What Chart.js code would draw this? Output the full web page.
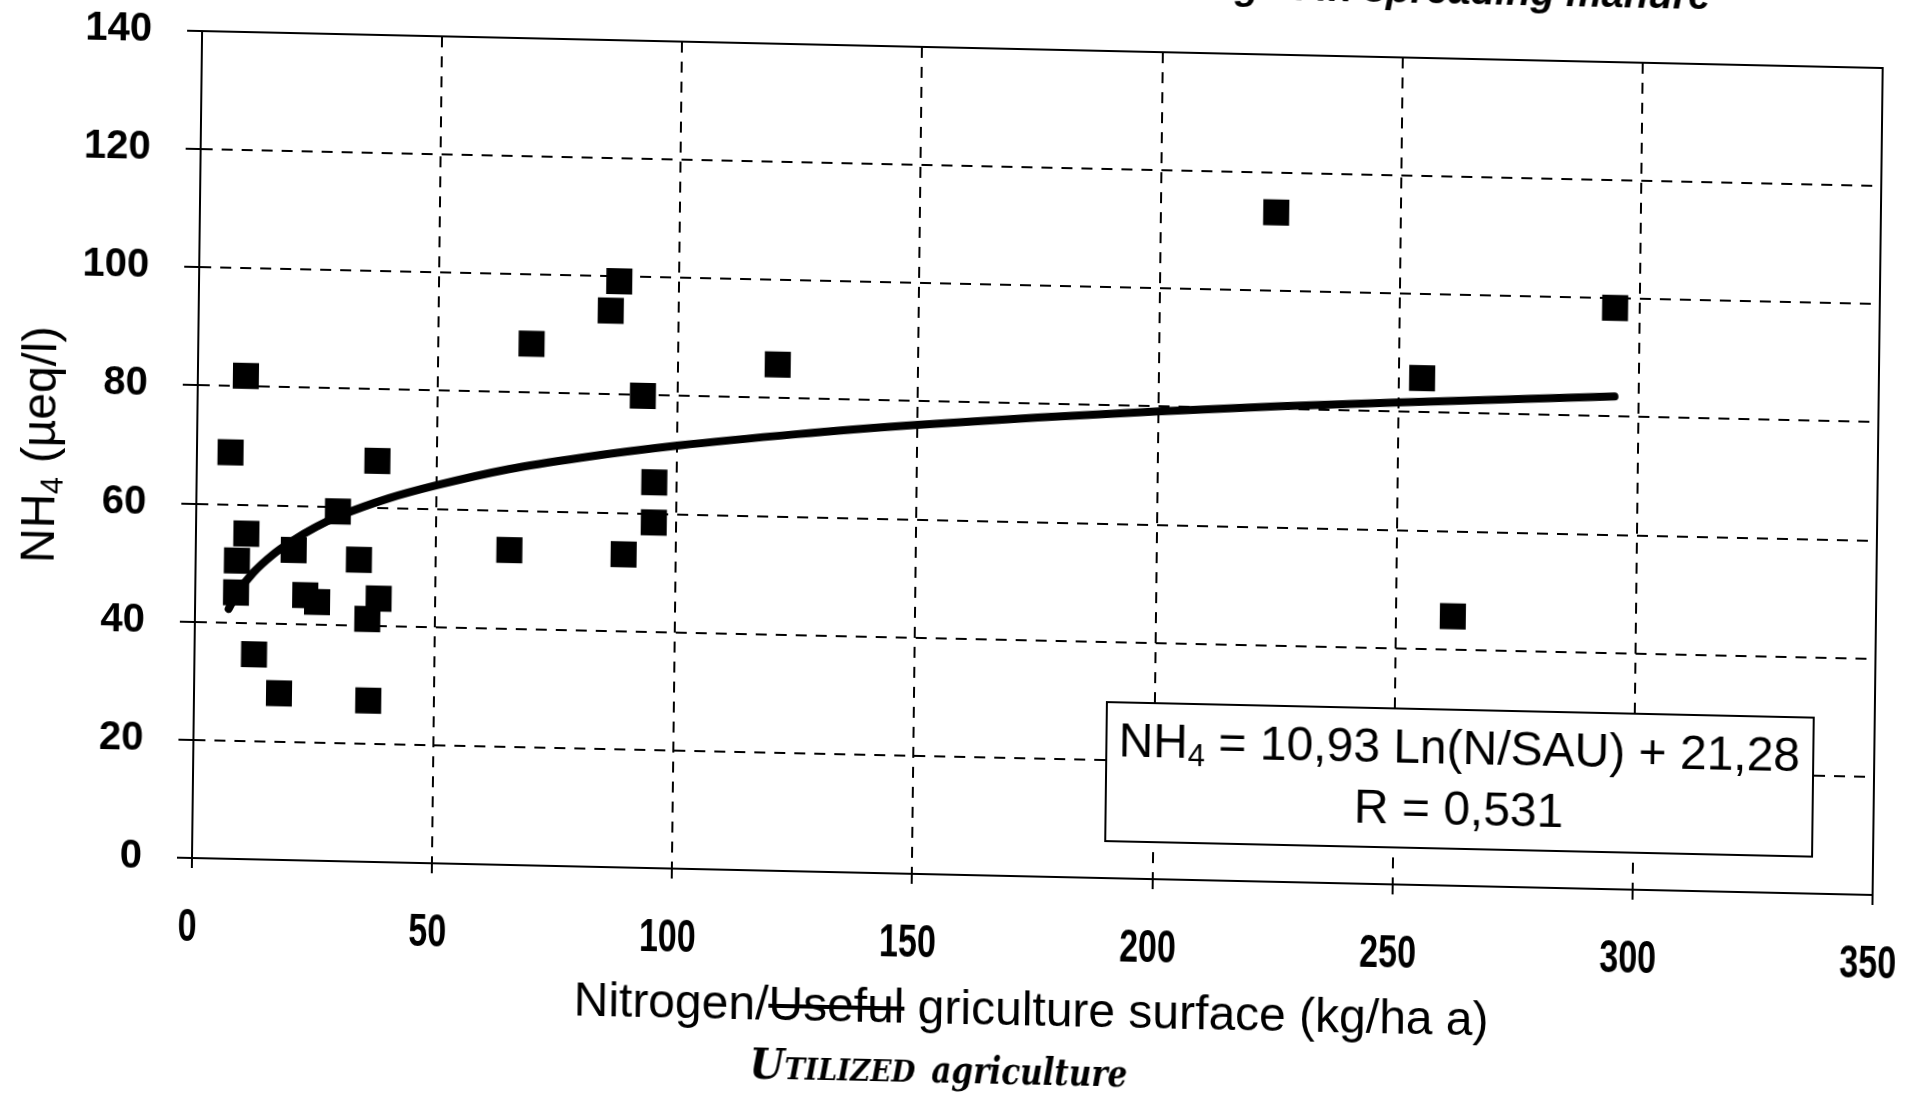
<!DOCTYPE html>
<html lang="en">
<head>
<meta charset="utf-8">
<title>NH4 and nitrogen per utilized agriculture surface</title>
<script src="https://cdn.jsdelivr.net/npm/chart.js@4.4.0/dist/chart.umd.min.js"></script>
<style>
  html, body { margin: 0; padding: 0; background: #fff; overflow: hidden; }
  body { width: 1907px; height: 1100px; position: relative; }
  /* the scanned page sits slightly rotated and skewed */
  #wrap {
    position: absolute; left: 0; top: -100px; width: 1907px; height: 1200px;
    transform-origin: 192px 958px;
    transform: rotate(0.7deg) skewY(0.56deg);
  }
  canvas { display: block; }
</style>
</head>
<body>
<div id="wrap"><canvas id="chart" width="1907" height="1200"></canvas></div>
<script>
// samples: nitrogen per utilized agriculture surface (kg/ha a) and NH4 (µeq/l)
const nSau = [10.0, 7.0, 37.6, 29.5, 10.5, 8.6, 20.4, 34.0, 8.5, 22.9, 25.4, 38.2, 35.9, 12.4, 17.7, 36.3,
              69.4, 65.3, 87.5, 85.8, 120.7, 92.7, 95.3, 95.3, 89.1,
              224.1, 254.9, 261.9, 294.9];
const nh4 = [81.8, 68.8, 67.9, 59.2, 55.1, 50.5, 52.5, 51.1, 45.1, 44.9, 43.8, 44.6, 41.1, 34.7, 28.2, 27.3,
             88.3, 53.3, 99.2, 94.2, 85.7, 79.9, 65.3, 58.5, 53.0,
             113.3, 85.8, 45.6, 98.4];

// logarithmic trend line
const trendN = [7, 9, 12, 16, 20, 25, 30, 40, 50, 65, 80, 100, 125, 150, 175, 200, 225, 250, 275, 295];
const trendNH4 = [42.3, 45.3, 48.5, 51.6, 54.0, 56.5, 58.5, 61.6, 64.0, 67.0, 69.2, 71.6, 74.0, 76.0,
                  77.7, 79.2, 80.5, 81.6, 82.6, 83.4];

const xTicks = [0, 50, 100, 150, 200, 250, 300, 350];
const yTicks = [0, 20, 40, 60, 80, 100, 120, 140];

const titleText = 'Nitrogen in spreading manure';
const yTitle = [['NH', false], ['4', true], [' (µeq/l)', false]];
const xTitle = ['Nitrogen/', 'Useful', ' griculture surface (kg/ha a)'];
const handNote = ['Utilized', 'agriculture'];
const fitLine1 = [['NH', false], ['4', true], [' = 10,93 Ln(N/SAU) + 21,28', false]];
const fitLine2 = [['R = 0,531', false]];

const FONT = "'Liberation Sans', Arial, sans-serif";

// text with subscripts, centred on x
function drawRuns(ctx, runs, x, y, size) {
    const subSize = Math.round(size * 0.64);
    const widths = runs.map(([t, sub]) => {
        ctx.font = (sub ? subSize : size) + 'px ' + FONT;
        return ctx.measureText(t).width;
    });
    let cx = x - widths.reduce((s, w) => s + w, 0) / 2;
    ctx.textAlign = 'left';
    runs.forEach(([t, sub], i) => {
        ctx.font = (sub ? subSize : size) + 'px ' + FONT;
        ctx.fillText(t, cx, sub ? y + size * 0.16 : y);
        cx += widths[i];
    });
}

const extras = {
    id: 'extras',
    beforeDatasetsDraw(chart) {
        const { ctx, chartArea: a } = chart;
        ctx.save();
        ctx.strokeStyle = '#000';
        ctx.lineWidth = 2;
        ctx.strokeRect(a.left, a.top, a.right - a.left, a.bottom - a.top);
        ctx.restore();
    },
    afterDraw(chart) {
        const ctx = chart.ctx;
        const a = chart.chartArea;
        const xs = chart.scales.x;
        ctx.save();
        ctx.fillStyle = '#000';
        ctx.strokeStyle = '#000';

        // x tick labels, condensed like the printed ones
        ctx.font = 'bold 46px ' + FONT;
        ctx.textAlign = 'center';
        ctx.textBaseline = 'middle';
        xTicks.forEach(v => {
            const label = String(v);
            const full = ctx.measureText(label).width;
            ctx.fillText(label, xs.getPixelForValue(v) - 4, a.bottom + 70, full * 0.74);
        });

        ctx.textBaseline = 'alphabetic';

        // title, mostly cut off by the top of the page
        ctx.font = 'italic bold 40px ' + FONT;
        ctx.textAlign = 'right';
        ctx.fillText(titleText, 1700, 76);

        // y axis title
        ctx.save();
        ctx.translate(33, 548);
        ctx.rotate(-Math.PI / 2);
        drawRuns(ctx, yTitle, 0, 17, 48);
        ctx.restore();

        // x axis title with the struck out word
        ctx.font = '48px ' + FONT;
        const w = xTitle.map(t => ctx.measureText(t).width);
        let x = 1033 - (w[0] + w[1] + w[2]) / 2;
        const base = 1107;
        ctx.textAlign = 'left';
        xTitle.forEach((t, i) => {
            ctx.fillText(t, x, base);
            if (i === 1) {
                ctx.lineWidth = 4;
                ctx.beginPath();
                ctx.moveTo(x, base - 14);
                ctx.lineTo(x + w[i], base - 14);
                ctx.stroke();
            }
            x += w[i];
        });

        // handwritten correction
        ctx.font = "italic bold small-caps 42px 'DejaVu Serif', serif";
        ctx.fillText(handNote[0], 752, 1166, 166);
        ctx.font = "italic bold 38px 'DejaVu Serif', serif";
        ctx.fillText(handNote[1], 934, 1166, 196);

        // fit equation box
        ctx.fillStyle = '#fff';
        ctx.fillRect(1105, 782, 707, 139);
        ctx.lineWidth = 2;
        ctx.strokeRect(1105, 782, 707, 139);
        ctx.fillStyle = '#000';
        drawRuns(ctx, fitLine1, 1458, 836, 48);
        drawRuns(ctx, fitLine2, 1458, 897, 48);
        ctx.restore();
    }
};

document.addEventListener('DOMContentLoaded', () => {
    const ctx = document.getElementById('chart').getContext('2d');

    new Chart(ctx, {
        type: 'scatter',
        data: {
            datasets: [{
                label: 'NH4',
                data: nSau.map((v, i) => ({ x: v, y: nh4[i] })),
                pointStyle: 'rect',
                pointRadius: 18.4,
                pointBackgroundColor: '#000',
                pointBorderWidth: 0,
                order: 1
            }, {
                label: 'Log trend',
                data: trendN.map((v, i) => ({ x: v, y: trendNH4[i] })),
                showLine: true,
                borderColor: '#000',
                borderWidth: 8,
                borderCapStyle: 'round',
                cubicInterpolationMode: 'monotone',
                pointRadius: 0,
                order: 2
            }]
        },
        options: {
            responsive: false,
            animation: false,
            devicePixelRatio: 1,
            layout: { padding: { top: 131, right: 34, bottom: 0, left: 0 } },
            plugins: {
                legend: { display: false },
                tooltip: { enabled: false }
            },
            scales: {
                x: {
                    type: 'linear',
                    min: 0,
                    max: 350,
                    afterFit: s => { s.height = 242; s.paddingLeft = 0; s.paddingRight = 0; },
                    afterBuildTicks: s => { s.ticks = xTicks.map(v => ({ value: v })); },
                    grid: { color: '#000', lineWidth: 2, tickLength: 10 },
                    border: { display: true, color: '#000', width: 2, dash: [11, 9] },
                    ticks: { display: false }
                },
                y: {
                    type: 'linear',
                    min: 0,
                    max: 140,
                    afterFit: s => { s.width = 192; s.paddingTop = 0; s.paddingBottom = 0; },
                    afterBuildTicks: s => { s.ticks = yTicks.map(v => ({ value: v })); },
                    grid: { color: '#000', lineWidth: 2, tickLength: 15 },
                    border: { display: true, color: '#000', width: 2, dash: [11, 9] },
                    ticks: {
                        color: '#000',
                        padding: 35,
                        font: { family: FONT, size: 40, weight: 'bold' }
                    }
                }
            }
        },
        plugins: [extras]
    });
});
</script>
</body>
</html>
